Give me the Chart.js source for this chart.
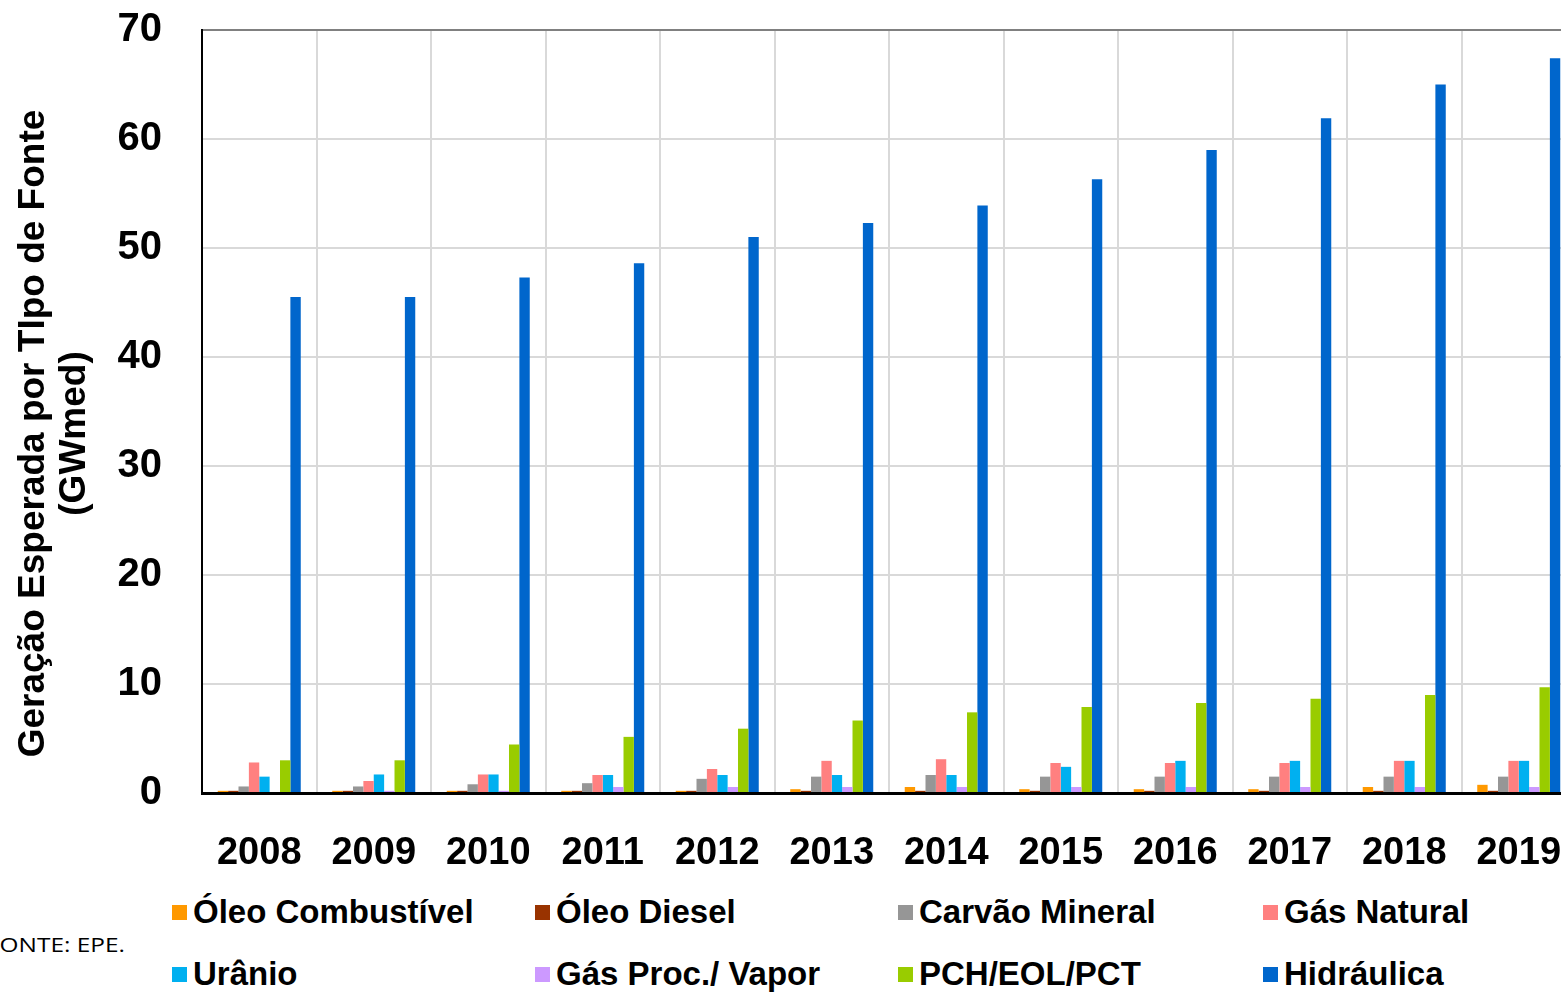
<!DOCTYPE html>
<html>
<head>
<meta charset="utf-8">
<script src="https://cdn.jsdelivr.net/npm/chart.js@4"></script>
<style>
  body { margin: 0; background: #fff; overflow: hidden; width: 1561px; height: 992px; position: relative; }
  #wrap { position: absolute; left: 0; top: 0; width: 1580px; height: 880px; }
  #legend { position: absolute; left: 172px; top: 890px; display: grid; grid-template-columns: 363px 363px 365px 300px; row-gap: 18px;
    font: bold 33px "Liberation Sans", Arial, sans-serif; color: #000; }
  .item { display: flex; align-items: center; height: 44px; white-space: nowrap; }
  .box { width: 15px; height: 15px; margin-right: 6px; flex: none; }
  #fonte { position: absolute; left: -13px; top: 931px; font: 20px "Open Sans", sans-serif; color: #000;
    transform: scaleX(1.22); transform-origin: 0 0; white-space: nowrap; }
</style>
</head>
<body>
<div id="wrap"><canvas id="chart" width="1580" height="880"></canvas></div>
<div id="legend"></div>
<div id="fonte">FONTE: EPE.</div>
<script>
const years = ['2008', '2009', '2010', '2011', '2012', '2013', '2014', '2015', '2016', '2017', '2018', '2019'];

const oleoCombustivel = [0.2, 0.2, 0.2, 0.2, 0.2, 0.35, 0.55, 0.35, 0.35, 0.35, 0.55, 0.75];
const oleoDiesel = [0.2, 0.2, 0.2, 0.2, 0.2, 0.2, 0.2, 0.2, 0.2, 0.2, 0.2, 0.2];
const carvaoMineral = [0.6, 0.6, 0.8, 0.9, 1.3, 1.5, 1.65, 1.5, 1.5, 1.5, 1.5, 1.5];
const gasNatural = [2.8, 1.1, 1.7, 1.65, 2.2, 2.95, 3.1, 2.75, 2.75, 2.75, 2.95, 2.95];
const uranio = [1.5, 1.7, 1.7, 1.65, 1.65, 1.65, 1.65, 2.4, 2.95, 2.95, 2.95, 2.95];
const gasProcVapor = [0, 0.2, 0.2, 0.55, 0.55, 0.55, 0.55, 0.55, 0.55, 0.55, 0.55, 0.55];
const pchEolPct = [3.0, 3.0, 4.45, 5.15, 5.9, 6.65, 7.4, 7.9, 8.25, 8.65, 9.0, 9.7];
const hidraulica = [45.5, 45.5, 47.3, 48.6, 51.0, 52.3, 53.9, 56.3, 59.0, 61.9, 65.0, 67.4];

const seriesNames = ['Óleo Combustível', 'Óleo Diesel', 'Carvão Mineral', 'Gás Natural', 'Urânio', 'Gás Proc./ Vapor', 'PCH/EOL/PCT', 'Hidráulica'];
const seriesData = [oleoCombustivel, oleoDiesel, carvaoMineral, gasNatural, uranio, gasProcVapor, pchEolPct, hidraulica];
const seriesColors = ['#FF9900', '#993300', '#969696', '#FF8080', '#00B0F0', '#CC99FF', '#99CC00', '#0066CC'];

const yTicks = [0, 10, 20, 30, 40, 50, 60, 70];
const yTitle = ['Geração Esperada por TIpo de Fonte', '(GWmed)'];

// rotated two-line axis title, a bit below the plot centre like the original
const yTitlePlugin = {
  id: 'yTitle',
  afterDraw(chart) {
    const { ctx, chartArea } = chart;
    const cy = (chartArea.top + chartArea.bottom) / 2 + 22;
    ctx.save();
    ctx.translate(0, cy);
    ctx.rotate(-Math.PI / 2);
    ctx.font = 'bold 37px "Liberation Sans", Arial, sans-serif';
    ctx.textAlign = 'center';
    ctx.textBaseline = 'middle';
    ctx.fillStyle = '#000';
    yTitle.forEach((t, i) => ctx.fillText(t, 0, 34 + i * 41));
    ctx.restore();
  }
};

const ctx = document.getElementById('chart').getContext('2d');
new Chart(ctx, {
  type: 'bar',
  data: {
    labels: years,
    datasets: seriesNames.map((name, i) => ({
      label: name,
      data: seriesData[i],
      backgroundColor: seriesColors[i],
      borderWidth: 0,
      categoryPercentage: 0.725,
      barPercentage: 1.0
    }))
  },
  plugins: [yTitlePlugin],
  options: {
    responsive: false,
    animation: false,
    layout: { padding: { top: 30, left: 0, right: 4, bottom: 0 } },
    plugins: {
      legend: { display: false },
      tooltip: { enabled: false }
    },
    scales: {
      x: {
        offset: true,
        grid: { offset: true, color: '#D9D9D9', lineWidth: 2, drawTicks: false },
        border: { color: '#000', width: 3 },
        ticks: {
          color: '#000',
          padding: 38,
          maxRotation: 0,
          font: { family: '"Liberation Sans", Arial, sans-serif', size: 38, weight: 'bold' }
        },
        afterFit: s => { s.height = 87; s.paddingLeft = 0; s.paddingRight = 0; }
      },
      y: {
        min: 0,
        max: 70,
        afterBuildTicks: s => { s.ticks = yTicks.map(v => ({ value: v })); },
        grid: {
          color: c => (c.tick && c.tick.value === 70 ? '#808080' : '#D9D9D9'),
          lineWidth: 2,
          drawTicks: false
        },
        border: { color: '#000', width: 2 },
        ticks: {
          color: '#000',
          padding: 40,
          font: { family: '"Liberation Sans", Arial, sans-serif', size: 40, weight: 'bold' }
        },
        afterFit: s => { s.width = 202; s.paddingTop = 0; s.paddingBottom = 0; }
      }
    }
  }
});

const legend = document.getElementById('legend');
seriesNames.forEach((name, i) => {
  const item = document.createElement('div');
  item.className = 'item';
  const box = document.createElement('span');
  box.className = 'box';
  box.style.background = seriesColors[i];
  const label = document.createElement('span');
  label.textContent = name;
  item.appendChild(box);
  item.appendChild(label);
  legend.appendChild(item);
});
</script>
</body>
</html>
